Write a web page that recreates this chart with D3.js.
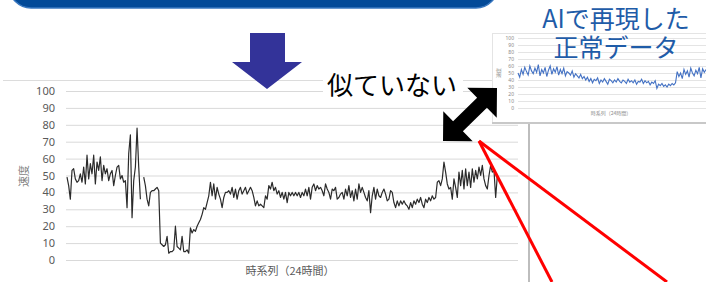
<!DOCTYPE html>
<html>
<head>
<meta charset="utf-8">
<script src="https://cdn.jsdelivr.net/npm/d3@7"></script>
<style>
body { margin: 0; background: #fff; }
svg { display: block; font-family: "Noto Sans CJK JP", "Noto Sans", sans-serif; }
</style>
</head>
<body>
<script>
// measured speed (black line), one value per sample, null = missing sample
const speed = [
  49,44,36,53,54, 48,46,47,51,46, 55,45,62,48,57, 51,62,45,58,53, 61,47,56,51,54,
  47,51,53,44,50, 55,56,48,50,46, 47,31,63,74,25, 47,55,78,55,36,
  null,
  49,44,36,32,40,41,41,42,43,41,
  10,9,8,9,14,4,5,5,6,20, 8,7,6,14,5,5,6,4,19,16, 18,17,20,22,24,27,31,30,34,38,
  46,38,45,36,43,39,36,31,37,40, 40,41,39,43,37,42,36,41,43,39, 41,43,39,41,43,41,37,32,35,32,
  33,
  32,31,38,36,44,42,46,41,43,39, 41,37,40,36,40,34,40,38,40,38, 40,38,40,37,40,38,42,38,43,36,
  43,45,41,44,42,43,41,38,45,42, 40,36,42,41,43,36,37,39,40,36, 42,38,44,37,41,35,42,36,45,40,
  43,40,37,35,41,28,38,43,36,42, 38,
  37,40,42,39,35,36,41,40,34,31, 35,32,35,33,35,33,32,30,34,31, 35,33,36,34,37,33,31,36,34,37,
  35,38,36,37,46,47,44,48,58,52, 45,42,43,36,48,43,37,52,44,53, 42,54,44,52,43,54,46,53,48,55,
  50,56,48,44,42,50,56,52,53,37, 50,47
];

// AI-generated "normal" data (blue line in the inset)
const normal = [
  50,44,55,48,58,52,47,60,53,49,57,51,62,46,55,50,58,45,54,60,48,56,51,59,47,
  55,49,57,46,52,50,47,53,44,49,46,43,48,42,45,
  40,44,38,42,36,41,39,43,35,40,37,42,38,34,41,39,36,40,37,42,38,
  36,40,38,35,41,37,39,36,40,34,38,37,41,35,39,36,38,33,37,35,39,
  28,34,32,35,31,33,30,34,32,35,33,36,
  52,45,50,42,55,48,53,44,57,50,46,54,49,58,43,56,51,55
];

const yTicks = [0, 10, 20, 30, 40, 50, 60, 70, 80, 90, 100];
const yLabel = "速度";
const xLabel = "時系列（24時間）";
const titleLines = ["AIで再現した", "正常データ"];
const noteText = "似ていない";

const svg = d3.select("body").append("svg")
  .attr("width", 706).attr("height", 282);

// ---- main chart ----
svg.append("line").attr("x1", 3).attr("x2", 529).attr("y1", 80.5).attr("y2", 80.5)
  .attr("stroke", "#dcdcdc");
svg.append("line").attr("x1", 529).attr("x2", 529).attr("y1", 80).attr("y2", 282)
  .attr("stroke", "#bdbdbd").attr("stroke-width", 2);

const y = d3.scaleLinear().domain([0, 100]).range([260, 91]);
const x = d3.scaleLinear().domain([0, speed.length - 1]).range([67, 499]);

svg.append("g").attr("transform", "translate(66,0)")
  .call(d3.axisLeft(y).tickValues(yTicks).tickSize(-452).tickPadding(11))
  .call(g => g.select(".domain").remove())
  .call(g => g.selectAll("line").attr("stroke", "#d9d9d9"))
  .call(g => g.selectAll("text").attr("fill", "#595959").attr("font-size", 11)
    .attr("font-family", "'Noto Sans', sans-serif"));

svg.append("path").datum(speed)
  .attr("fill", "none").attr("stroke", "#2b2b2b").attr("stroke-width", 1.2)
  .attr("stroke-linejoin", "round")
  .attr("d", d3.line().defined(d => d != null).x((d, i) => x(i)).y(d => y(d)));

svg.append("text").attr("transform", "translate(28,176) rotate(-90)")
  .attr("text-anchor", "middle").attr("font-size", 11).attr("fill", "#7f7f7f")
  .text(yLabel);
svg.append("text").attr("x", 290).attr("y", 275)
  .attr("text-anchor", "middle").attr("font-size", 11).attr("fill", "#595959")
  .text(xLabel);

// ---- inset chart ----
svg.append("rect").attr("x", 492.5).attr("y", 33.5).attr("width", 220).attr("height", 89)
  .attr("fill", "#fff").attr("stroke", "#e4e4e4");
svg.append("line").attr("x1", 492).attr("x2", 706).attr("y1", 123).attr("y2", 123)
  .attr("stroke", "#c8c8c8").attr("stroke-width", 2);

const iy = d3.scaleLinear().domain([0, 100]).range([108, 38]);
const ix = d3.scaleLinear().domain([0, normal.length - 1]).range([518, 706]);

svg.append("g").attr("transform", "translate(518,0)")
  .call(d3.axisLeft(iy).tickValues(yTicks).tickSize(-200).tickPadding(4))
  .call(g => g.select(".domain").remove())
  .call(g => g.selectAll("line").attr("stroke", "#e4e4e4"))
  .call(g => g.selectAll("text").attr("fill", "#8a8a8a").attr("font-size", 5)
    .attr("font-family", "'Noto Sans', sans-serif"));

svg.append("path").datum(normal)
  .attr("fill", "none").attr("stroke", "#4472c4").attr("stroke-width", 1.1)
  .attr("d", d3.line().x((d, i) => ix(i)).y(d => iy(d)));

svg.append("text").attr("transform", "translate(500,73) rotate(-90)")
  .attr("text-anchor", "middle").attr("font-size", 5).attr("fill", "#8a8a8a")
  .text(yLabel);
svg.append("text").attr("x", 611).attr("y", 115)
  .attr("text-anchor", "middle").attr("font-size", 5).attr("fill", "#8a8a8a")
  .text(xLabel);

// ---- title of inset ----
svg.selectAll(".title").data(titleLines).enter().append("text")
  .attr("class", "title")
  .attr("x", 616).attr("y", (d, i) => 28 + i * 29)
  .attr("text-anchor", "middle").attr("font-size", 25).attr("fill", "#1f5ca8")
  .text(d => d);

// ---- banner on top ----
svg.append("rect").attr("x", 9).attr("y", -40).attr("width", 489).attr("height", 48)
  .attr("rx", 22).attr("fill", "#034a98").attr("stroke", "#3a78c0").attr("stroke-width", 1.5);

// ---- down arrow ----
svg.append("polygon")
  .attr("points", [[250, 33], [285, 33], [285, 62], [302, 62], [267, 89], [232, 62], [250, 62]].join(" "))
  .attr("fill", "#333399");

// ---- note text ----
svg.append("rect").attr("x", 323).attr("y", 70).attr("width", 140).attr("height", 30)
  .attr("fill", "#fff");
svg.append("text").attr("x", 327).attr("y", 95)
  .attr("font-size", 26).attr("fill", "#000").text(noteText);

// ---- double arrow ----
const a = [443, 141], b = [497, 88];
const len = Math.hypot(b[0] - a[0], b[1] - a[1]);
const u = [(b[0] - a[0]) / len, (b[1] - a[1]) / len];
const n = [-u[1], u[0]];
const hl = 21, hw = 21, sw = 7;
const local = [[0, 0], [hl, hw], [hl, sw], [len - hl, sw], [len - hl, hw], [len, 0],
  [len - hl, -hw], [len - hl, -sw], [hl, -sw], [hl, -hw]];
svg.append("polygon")
  .attr("points", local.map(([s, p]) => [a[0] + s * u[0] + p * n[0], a[1] + s * u[1] + p * n[1]]).join(" "))
  .attr("fill", "#000");

// ---- red pointer lines ----
[[552, 282], [667, 282]].forEach(end => {
  svg.append("line").attr("x1", 479).attr("y1", 141).attr("x2", end[0]).attr("y2", end[1])
    .attr("stroke", "#ff0000").attr("stroke-width", 3);
});
</script>
</body>
</html>
